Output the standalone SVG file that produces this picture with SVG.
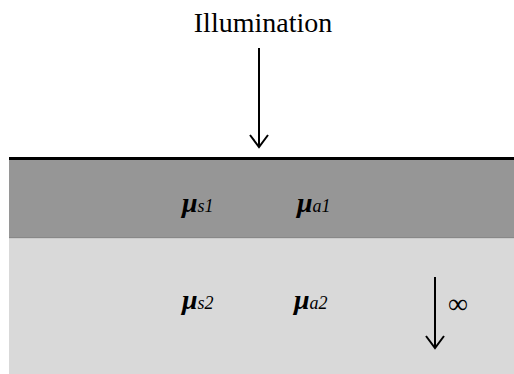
<svg xmlns="http://www.w3.org/2000/svg" width="514" height="374" viewBox="0 0 514 374">
<style>
.mu{font-family:"Liberation Serif",serif;font-style:italic;font-weight:bold;font-size:28px;fill:#000}
.sub{font-family:"Liberation Serif",serif;font-style:italic;font-weight:normal;font-size:18px}
.arr{stroke:#000;stroke-width:2;fill:none}
</style>
<rect width="514" height="374" fill="#fff"/>
<g id="layer1">
<rect x="9" y="159" width="505" height="79" fill="#969696"/>
<line x1="9" y1="238" x2="514" y2="238" stroke="#7a7a7a" stroke-width="1"/>
</g>
<g id="layer2">
<rect x="9" y="238.5" width="505" height="135.5" fill="#d9d9d9"/>
</g>
<g id="surface">
<line x1="9" y1="158.5" x2="514" y2="158.5" stroke="#000" stroke-width="3"/>
</g>
<g id="illumination">
<text x="263" y="32" text-anchor="middle" font-family="'Liberation Serif',serif" font-size="28">Illumination</text>
</g>
<g id="labels">
<text class="mu" x="182" y="212">μ<tspan class="sub">s1</tspan></text>
<text class="mu" x="297" y="212">μ<tspan class="sub">a1</tspan></text>
<text class="mu" x="182" y="309">μ<tspan class="sub">s2</tspan></text>
<text class="mu" x="294" y="309">μ<tspan class="sub">a2</tspan></text>
<text x="458" y="313" text-anchor="middle" font-family="'Liberation Serif',serif" font-size="28">∞</text>
</g>
<g id="connectors">
<path class="arr" d="M259 48V147M250 135L259 147L268 135"/>
<path class="arr" d="M435 277V348M426 336L435 348L444 336"/>
</g>
</svg>
